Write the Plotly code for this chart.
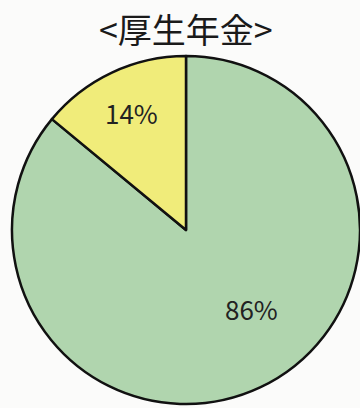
import plotly.graph_objects as go

# Share of 厚生年金 (percent), drawn clockwise from 12 o'clock
labels = ["B", "A"]
values = [86, 14]
colors = ["#b0d5ae", "#f0ec7a"]
title_text = "<厚生年金>"

W, H = 360, 408

fig = go.Figure(
    go.Pie(
        labels=labels,
        values=values,
        sort=False,
        direction="clockwise",
        rotation=0,
        marker=dict(colors=colors, line=dict(color="#111111", width=2.5)),
        textinfo="none",
        hoverinfo="none",
        showlegend=False,
        domain=dict(x=[12 / W, 1.0], y=[3 / H, 353 / H]),
    )
)

# Percentage labels, text taken from the values
label_pos = [(251 / W, 1 - 308 / H), (131 / W, 1 - 112 / H)]
for v, (px, py) in zip(values, label_pos):
    fig.add_annotation(
        x=px, y=py, xref="paper", yref="paper",
        text=f"{v}%", showarrow=False,
        font=dict(family="Noto Sans CJK JP, Noto Sans", size=26, color="#222222"),
        xanchor="center", yanchor="middle",
    )

fig.add_annotation(
    x=186 / W, y=1 - 29 / H, xref="paper", yref="paper",
    text=title_text, showarrow=False,
    font=dict(family="Noto Sans CJK JP", size=34, color="#1a1a1a"),
    xanchor="center", yanchor="middle",
)

fig.update_layout(
    width=W, height=H,
    margin=dict(l=0, r=0, t=0, b=0),
    paper_bgcolor="#fbfbfa",
    plot_bgcolor="#fbfbfa",
)

fig.write_html("out.html", config={"displayModeBar": False})
